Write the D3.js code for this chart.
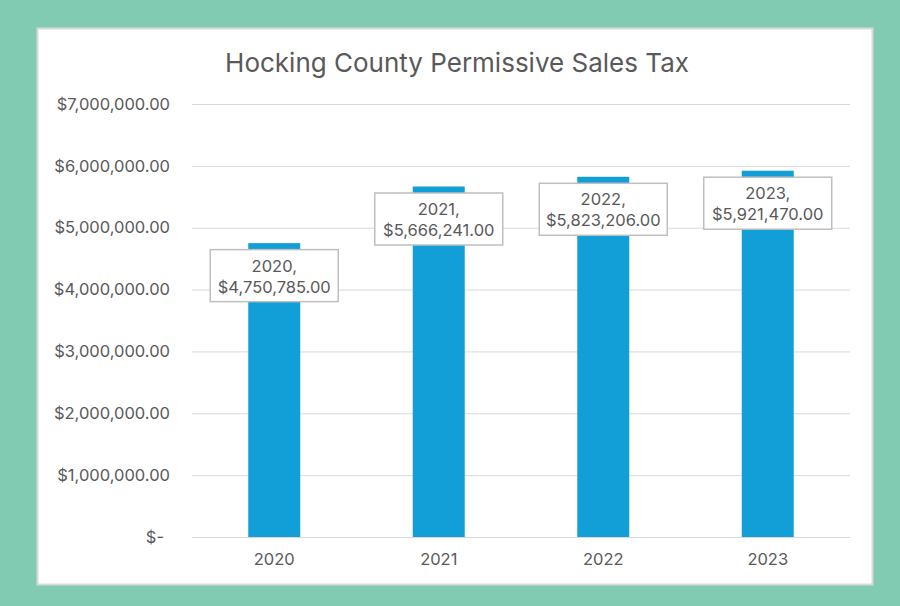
<!DOCTYPE html>
<html>
<head>
<meta charset="utf-8">
<script src="https://cdn.jsdelivr.net/npm/d3@7"></script>
<style>
  body { margin: 0; background: #80cbb1; }
  text { font-family: Inter, "Open Sans", sans-serif; fill: #595959; }
</style>
</head>
<body>
<div id="chart"></div>
<script>
// chart data
var years = ["2020", "2021", "2022", "2023"];
var taxValues = [4750785, 5666241, 5823206, 5921470];
var yTicks = [0, 1000000, 2000000, 3000000, 4000000, 5000000, 6000000, 7000000];
var chartTitle = "Hocking County Permissive Sales Tax";

var svgWidth = 900;
var svgHeight = 606;

var margin = { top: 104, right: 50, bottom: 69, left: 192 };
var width = svgWidth - margin.left - margin.right;
var height = svgHeight - margin.top - margin.bottom;

var svg = d3.select("#chart")
    .append("svg")
    .attr("width", svgWidth)
    .attr("height", svgHeight);

// white panel with light border
svg.append("rect")
    .attr("x", 37.5)
    .attr("y", 28.5)
    .attr("width", 835)
    .attr("height", 556)
    .attr("fill", "#fff")
    .attr("stroke", "#d9d9d9")
    .attr("stroke-width", 2);

svg.append("text")
    .attr("x", 457)
    .attr("y", 72)
    .attr("text-anchor", "middle")
    .style("font-size", "26px")
    .text(chartTitle);

var chartGroup = svg.append("g")
    .attr("transform", `translate(${margin.left}, ${margin.top})`);

var xScale = d3.scaleBand()
    .domain(years)
    .range([0, width])
    .paddingInner(0.684)
    .paddingOuter(0.342);

var yScale = d3.scaleLinear()
    .domain([0, 7000000])
    .range([height, 0]);

var fmt = d3.format("$,.2f");

// gridlines
chartGroup.selectAll("line.grid")
    .data(yTicks)
    .enter()
    .append("line")
    .attr("class", "grid")
    .attr("x1", 0)
    .attr("x2", width)
    .attr("y1", d => yScale(d) + 0.5)
    .attr("y2", d => yScale(d) + 0.5)
    .attr("stroke", "#d9d9d9")
    .attr("stroke-width", 1);

// y axis labels
var yAxis = d3.axisLeft(yScale)
    .tickValues(yTicks)
    .tickSize(0)
    .tickPadding(22)
    .tickFormat(d => d === 0 ? "$-" : fmt(d));

var yG = chartGroup.append("g").call(yAxis);
yG.select(".domain").remove();
yG.selectAll("text").style("font-size", "16.5px").attr("fill", "#595959");
yG.selectAll(".tick").filter(d => d === 0).select("text").attr("x", -28);

// x axis labels
var xAxis = d3.axisBottom(xScale).tickSize(0).tickPadding(16);
var xG = chartGroup.append("g")
    .attr("transform", `translate(0, ${height})`)
    .call(xAxis);
xG.select(".domain").remove();
xG.selectAll("text").style("font-size", "16.5px").attr("fill", "#595959");

// bars
var rows = years.map((y, i) => ({ year: y, value: taxValues[i] }));

chartGroup.selectAll("rect.bar")
    .data(rows)
    .enter()
    .append("rect")
    .attr("class", "bar")
    .attr("x", d => xScale(d.year))
    .attr("y", d => yScale(d.value))
    .attr("width", xScale.bandwidth())
    .attr("height", d => height - yScale(d.value))
    .attr("fill", "#129fd8");

// data labels
var boxW = 128, boxH = 52;
var labels = chartGroup.selectAll("g.label")
    .data(rows)
    .enter()
    .append("g")
    .attr("class", "label")
    .attr("transform", d => `translate(${xScale(d.year) + xScale.bandwidth() / 2}, ${yScale(d.value) + 6})`);

labels.append("rect")
    .attr("x", -boxW / 2)
    .attr("y", 0.5)
    .attr("width", boxW)
    .attr("height", boxH)
    .attr("fill", "#fff")
    .attr("stroke", "#bfbfbf")
    .attr("stroke-width", 1.5);

labels.append("text")
    .attr("text-anchor", "middle")
    .attr("y", 22.5)
    .style("font-size", "16.5px")
    .text(d => d.year + ",");

labels.append("text")
    .attr("text-anchor", "middle")
    .attr("y", 43.5)
    .style("font-size", "16.5px")
    .text(d => fmt(d.value));
</script>
</body>
</html>
